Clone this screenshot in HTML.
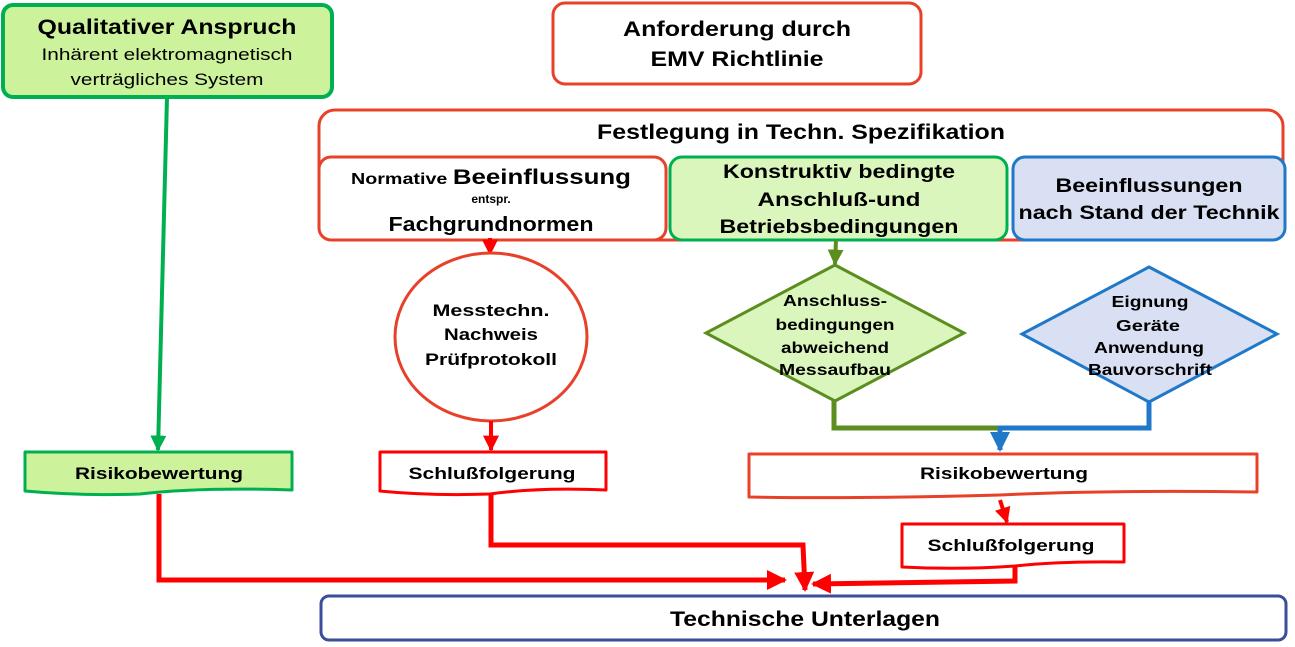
<!DOCTYPE html>
<html><head><meta charset="utf-8"><style>
html,body{margin:0;padding:0;background:#fff;width:1295px;height:647px;overflow:hidden}
svg text{font-family:"Liberation Sans",sans-serif;font-weight:bold;fill:#000}
</style></head><body>
<svg width="1295" height="647" viewBox="0 0 1295 647" xmlns="http://www.w3.org/2000/svg">
<defs>
<marker id="ar" viewBox="0 0 10 10" refX="9" refY="5" markerWidth="4" markerHeight="4" orient="auto"><path d="M0,0L10,5L0,10z" fill="#ff0000"/></marker>
<marker id="ag" viewBox="0 0 10 10" refX="9" refY="5" markerWidth="4" markerHeight="4" orient="auto"><path d="M0,0L10,5L0,10z" fill="#00b050"/></marker>
<marker id="ao" viewBox="0 0 10 10" refX="9" refY="5" markerWidth="4" markerHeight="4" orient="auto"><path d="M0,0L10,5L0,10z" fill="#5b8e1f"/></marker>
<marker id="ab" viewBox="0 0 10 10" refX="9" refY="5" markerWidth="4" markerHeight="4" orient="auto"><path d="M0,0L10,5L0,10z" fill="#1f78c8"/></marker>
</defs>

<!-- top left -->
<rect x="3" y="5" width="329" height="92" rx="10" fill="#ccf29c" stroke="#00b050" stroke-width="4"/>
<text x="167" y="34" font-size="21" text-anchor="middle" textLength="259" lengthAdjust="spacingAndGlyphs">Qualitativer Anspruch</text>
<text x="167" y="60" font-size="17" font-weight="normal" style="font-weight:normal" text-anchor="middle" textLength="251" lengthAdjust="spacingAndGlyphs">Inhärent elektromagnetisch</text>
<text x="167" y="85" font-size="17" style="font-weight:normal" text-anchor="middle" textLength="193" lengthAdjust="spacingAndGlyphs">verträgliches System</text>

<rect x="553" y="3" width="368" height="81" rx="12" fill="#fff" stroke="#e8412a" stroke-width="3"/>
<text x="737" y="36" font-size="21" text-anchor="middle" textLength="228" lengthAdjust="spacingAndGlyphs">Anforderung durch</text>
<text x="737" y="66" font-size="21" text-anchor="middle" textLength="173" lengthAdjust="spacingAndGlyphs">EMV Richtlinie</text>

<rect x="319" y="110" width="964" height="130" rx="16" fill="#fff" stroke="#e8412a" stroke-width="3"/>
<text x="801" y="139" font-size="21" text-anchor="middle" textLength="408" lengthAdjust="spacingAndGlyphs">Festlegung in Techn. Spezifikation</text>

<rect x="319" y="157" width="347" height="83" rx="12" fill="#fff" stroke="#e8412a" stroke-width="3"/>
<text x="491" y="184" text-anchor="middle" textLength="280" lengthAdjust="spacingAndGlyphs"><tspan font-size="16">Normative </tspan><tspan font-size="21">Beeinflussung</tspan></text>
<text x="491" y="203" font-size="12" text-anchor="middle">entspr.</text>
<text x="491" y="231" font-size="20" text-anchor="middle" textLength="205" lengthAdjust="spacingAndGlyphs">Fachgrundnormen</text>

<rect x="670" y="157" width="337" height="83" rx="12" fill="#daf6bd" stroke="#00b050" stroke-width="3"/>
<text x="839" y="178" font-size="19" text-anchor="middle" textLength="232" lengthAdjust="spacingAndGlyphs">Konstruktiv bedingte</text>
<text x="839" y="206" font-size="19" text-anchor="middle" textLength="163" lengthAdjust="spacingAndGlyphs">Anschluß-und</text>
<text x="839" y="233" font-size="19" text-anchor="middle" textLength="239" lengthAdjust="spacingAndGlyphs">Betriebsbedingungen</text>

<rect x="1013" y="157" width="272" height="83" rx="12" fill="#dae0f3" stroke="#1f78c8" stroke-width="3"/>
<text x="1149" y="192" font-size="19" text-anchor="middle" textLength="187" lengthAdjust="spacingAndGlyphs">Beeinflussungen</text>
<text x="1149" y="219" font-size="19" text-anchor="middle" textLength="261" lengthAdjust="spacingAndGlyphs">nach Stand der Technik</text>

<!-- green arrow left -->
<line x1="167" y1="97" x2="158" y2="450" stroke="#00b050" stroke-width="4" marker-end="url(#ag)"/>

<!-- left risiko -->
<path d="M25,452 H292 V490 Q200,487 140,494 Q80,496 25,491 Z" fill="#ccf29c" stroke="#00b050" stroke-width="3" stroke-linejoin="round"/>
<text x="159" y="479" font-size="17" text-anchor="middle" textLength="168" lengthAdjust="spacingAndGlyphs">Risikobewertung</text>

<!-- circle -->
<line x1="490" y1="238" x2="490" y2="254" stroke="#ff0000" stroke-width="4" marker-end="url(#ar)"/>
<ellipse cx="491" cy="337" rx="96" ry="84" fill="#fff" stroke="#e8412a" stroke-width="3"/>
<text x="491" y="316" font-size="17" text-anchor="middle" textLength="117" lengthAdjust="spacingAndGlyphs">Messtechn.</text>
<text x="491" y="340" font-size="17" text-anchor="middle" textLength="94" lengthAdjust="spacingAndGlyphs">Nachweis</text>
<text x="491" y="365" font-size="17" text-anchor="middle" textLength="132" lengthAdjust="spacingAndGlyphs">Prüfprotokoll</text>
<line x1="491" y1="421" x2="491" y2="450" stroke="#ff0000" stroke-width="4" marker-end="url(#ar)"/>

<path d="M380,452 H606 V490 Q540,487 490,494 Q430,496 380,491 Z" fill="#fff" stroke="#ff0000" stroke-width="3" stroke-linejoin="round"/>
<text x="492" y="479" font-size="17" text-anchor="middle" textLength="167" lengthAdjust="spacingAndGlyphs">Schlußfolgerung</text>

<!-- diamonds -->
<line x1="836" y1="240" x2="835" y2="264" stroke="#5b8e1f" stroke-width="4" marker-end="url(#ao)"/>
<polygon points="835,265 964,333 835,401 706,333" fill="#daf6bd" stroke="#5b8e1f" stroke-width="3"/>
<text x="835" y="306" font-size="16" text-anchor="middle" textLength="104" lengthAdjust="spacingAndGlyphs">Anschluss-</text>
<text x="835" y="330" font-size="16" text-anchor="middle" textLength="119" lengthAdjust="spacingAndGlyphs">bedingungen</text>
<text x="835" y="353" font-size="16" text-anchor="middle" textLength="108" lengthAdjust="spacingAndGlyphs">abweichend</text>
<text x="835" y="375" font-size="16" text-anchor="middle" textLength="112" lengthAdjust="spacingAndGlyphs">Messaufbau</text>

<polygon points="1149,267 1277,334 1149,402 1022,334" fill="#dae0f3" stroke="#1f78c8" stroke-width="3"/>
<text x="1150" y="307" font-size="16" text-anchor="middle" textLength="77" lengthAdjust="spacingAndGlyphs">Eignung</text>
<text x="1148" y="331" font-size="16" text-anchor="middle" textLength="64" lengthAdjust="spacingAndGlyphs">Geräte</text>
<text x="1149" y="353" font-size="16" text-anchor="middle" textLength="110" lengthAdjust="spacingAndGlyphs">Anwendung</text>
<text x="1150" y="375" font-size="16" text-anchor="middle" textLength="124" lengthAdjust="spacingAndGlyphs">Bauvorschrift</text>

<polyline points="834,401 834,428 1003,428" fill="none" stroke="#5b8e1f" stroke-width="5"/>
<polyline points="1149,402 1149,428 1000,428 1000,450" fill="none" stroke="#1f78c8" stroke-width="5" marker-end="url(#ab)"/>

<!-- right risiko -->
<path d="M749,454 H1257 V492 Q1100,490 1000,495 Q860,499 749,497 Z" fill="#fff" stroke="#e8412a" stroke-width="3" stroke-linejoin="round"/>
<text x="1004" y="479" font-size="17" text-anchor="middle" textLength="168" lengthAdjust="spacingAndGlyphs">Risikobewertung</text>
<line x1="1000" y1="500" x2="1007" y2="522" stroke="#ff0000" stroke-width="4" marker-end="url(#ar)"/>

<path d="M902,524 H1124 V562 Q1060,561 1015,566 Q960,570 902,567 Z" fill="#fff" stroke="#ff0000" stroke-width="3" stroke-linejoin="round"/>
<text x="1011" y="551" font-size="17" text-anchor="middle" textLength="167" lengthAdjust="spacingAndGlyphs">Schlußfolgerung</text>

<!-- red flow to bottom -->
<polyline points="159,494 159,580 785,580" fill="none" stroke="#ff0000" stroke-width="5" marker-end="url(#ar)"/>
<polyline points="491,494 491,545 803,545 805,590" fill="none" stroke="#ff0000" stroke-width="5" marker-end="url(#ar)"/>
<polyline points="1015,567 1015,581 813,584" fill="none" stroke="#ff0000" stroke-width="5" marker-end="url(#ar)"/>

<rect x="321" y="596" width="965" height="44" rx="8" fill="#fff" stroke="#3a4e9a" stroke-width="3"/>
<text x="805" y="626" font-size="21" text-anchor="middle" textLength="270" lengthAdjust="spacingAndGlyphs">Technische Unterlagen</text>
</svg>
</body></html>
